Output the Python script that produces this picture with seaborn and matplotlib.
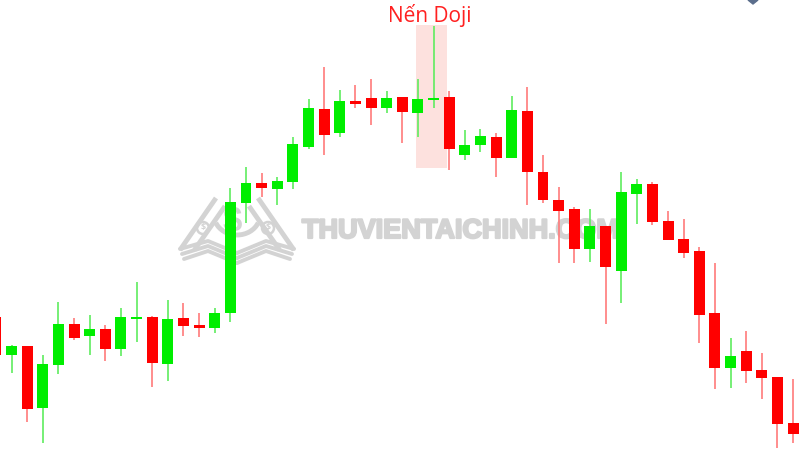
import matplotlib
matplotlib.use("Agg")
import numpy as np
import pandas as pd
import matplotlib.pyplot as plt
import matplotlib.patheffects as pe
import seaborn as sns
from matplotlib.patches import Rectangle, Polygon, Arc, Circle

# OHLC (arbitrary price units)
opens = [183, 145, 154, 92, 135, 176, 164, 171, 151, 181.5, 183, 136, 182, 175, 172,
         187, 297, 317, 311, 318, 353, 391, 367, 399, 402, 392, 403, 387, 400.5, 403,
         345, 355, 363, 342, 389, 328, 300, 291, 251, 274, 229, 306, 316, 279, 261,
         249, 187, 132, 149, 130, 123, 77]
highs = [190, 155, 154, 145, 198, 182, 185, 175, 192, 218, 184, 200, 197, 187, 192,
         312, 333, 327, 323, 363, 401, 433, 410, 415, 421, 409, 403, 421, 474, 409,
         370, 371, 367, 404, 413, 345, 313, 293, 291, 274, 328, 321, 318, 289, 281,
         253, 237, 162, 169, 147, 123, 121]
lows = [135, 127, 78, 57, 126, 160, 145, 139, 144, 158, 113, 119, 164, 163, 167,
        178, 277, 303, 295, 311, 351, 345, 363, 392, 375, 387, 357, 363, 392, 330,
        340, 348, 323, 342, 295, 297, 237, 237, 238, 176, 197, 276, 275, 260, 242,
        157, 111, 112, 117, 101, 52, 57]
closes = [145, 154, 91, 136, 176, 162, 171, 151, 183, 182.5, 137, 181, 174, 172, 187,
          298, 317, 312, 319, 356, 392, 365, 399, 396, 392, 402, 388, 401, 401.5, 351,
          355, 364, 342, 390, 328, 300, 289, 251, 274, 233, 308, 316, 278, 260, 247,
          185, 132, 144, 129, 122, 76, 66]

doji_idx = 28
doji_label = "Nến Doji"
watermark = "THUVIENTAICHINH.COM"

df = pd.DataFrame({"open": opens, "high": highs, "low": lows, "close": closes})
df["idx"] = np.arange(len(df))
df["up"] = df["close"] >= df["open"]

sns.set_style("white")
plt.rcParams["font.family"] = ["Open Sans", "DejaVu Sans"]

GREEN, RED = "#00ee00", "#ff0000"
GREEN_W, RED_W = "#5fec5f", "#ff7a7a"
GRAY = "#d3d3d3"

fig = plt.figure(figsize=(8, 4.54), dpi=100)

# background layer in pixel units for the watermark
bg = fig.add_axes([0, 0, 1, 1])
bg.set_xlim(0, 800)
bg.set_ylim(454, 0)
bg.axis("off")

bg.text(461, 238, watermark, ha="center", va="baseline", fontsize=19.5,
        fontweight="bold", family="Liberation Sans", color=GRAY,
        path_effects=[pe.withStroke(linewidth=1.6, foreground=GRAY)])
# rough version of the book logo
for dx in (0, 9):
    bg.plot([180 + dx * 1.6, 216 + dx], [250, 198 + dx * 0.9], color=GRAY, lw=3.5, solid_capstyle="butt")
    bg.plot([294 - dx * 1.6, 258 - dx], [250, 198 + dx * 0.9], color=GRAY, lw=3.5, solid_capstyle="butt")
bg.add_patch(Arc((237, 215), 46, 40, theta1=20, theta2=160, color=GRAY, lw=3.5))
for k in range(3):
    yy = 249 + k * 5
    bg.plot([180 + k * 2, 208, 237], [yy, yy - 8, yy + 4], color=GRAY, lw=2.8)
    bg.plot([294 - k * 2, 266, 237], [yy, yy - 8, yy + 4], color=GRAY, lw=2.8)
bg.text(232, 221, "$", ha="center", va="center", fontsize=25, fontweight="bold",
        family="Liberation Sans", color=GRAY)
for cx in (203, 268):
    bg.add_patch(Circle((cx, 228), 6, fill=False, ec=GRAY, lw=1.8))
    bg.text(cx, 228, "$", ha="center", va="center", fontsize=6.5, fontweight="bold", color=GRAY)
bg.add_patch(Polygon([[748, 0], [758, 0], [753, 4]], closed=True, color="#5b6e8c"))

# candles
ax = fig.add_axes([0, 0, 1, 1])
ax.patch.set_alpha(0)
ax.axis("off")

ax.add_patch(Rectangle((doji_idx - 1.1, 332), 1.98, 143, color="#fde1de", zorder=0, lw=0))

wick_cols = np.where(df["up"], GREEN_W, RED_W)
body_cols = np.where(df["up"], GREEN, RED)
ax.vlines(df["idx"], df["low"], df["high"], colors=wick_cols, linewidth=1.2, zorder=1)
body_low = df[["open", "close"]].min(axis=1)
body_h = (df["close"] - df["open"]).abs().clip(lower=1.2)
ax.bar(df["idx"], body_h, bottom=body_low, width=0.7, color=body_cols, linewidth=0, zorder=2)

ax.text(doji_idx - 0.23, 478, doji_label, ha="center", va="baseline", fontsize=15, color="#ff2020")

ax.set_xlim(0.262, 51.44)
ax.set_ylim(46, 500)

fig.savefig("out.png", dpi=100)
